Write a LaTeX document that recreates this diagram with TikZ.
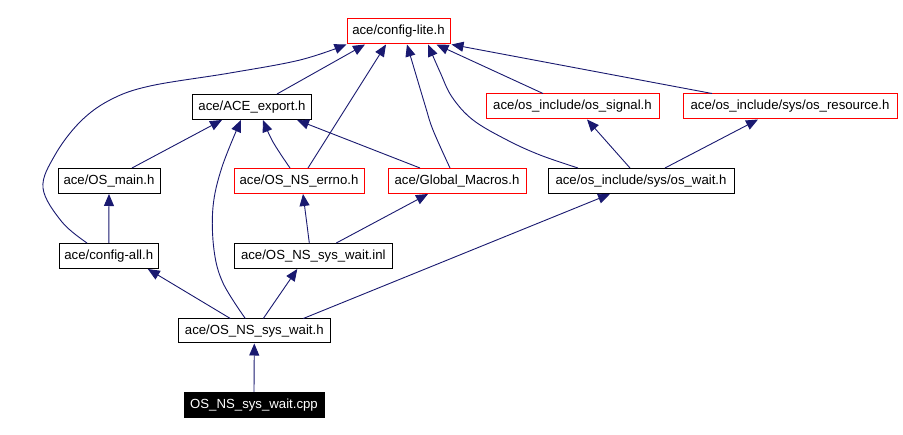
\documentclass[tikz,border=0pt]{standalone}
\usepackage{fontspec}
\setmainfont{Liberation Sans}
\usetikzlibrary{arrows.meta}
\definecolor{edgeblue}{HTML}{191970}
\definecolor{boxred}{HTML}{FF0000}
\begin{document}
\begin{tikzpicture}[x=1pt,y=-1pt,
  box/.style={draw=black, line width=1pt, rectangle, minimum height=25pt, inner sep=0pt, font=\fontsize{13.2}{15}\selectfont, text=black, fill=white},
  redbox/.style={box, draw=boxred},
  dark/.style={box, fill=black, text=white, draw=black},
  arr/.style={draw=edgeblue, line width=0.9pt, -{Triangle[length=12pt,width=10pt]}},
]
\useasboundingbox[fill=white] (0,0) rectangle (903,435);

\node[redbox, minimum width=103pt] (lite) at (398.5,31.5) {ace/config-lite.h};
\node[box, minimum width=119pt] (ace) at (252,107) {ace/ACE\_export.h};
\node[redbox, minimum width=173pt] (signal) at (572.5,106.5) {ace/os\_include/os\_signal.h};
\node[redbox, minimum width=214pt] (resource) at (790,106.5) {ace/os\_include/sys/os\_resource.h};
\node[box, minimum width=102pt] (main) at (109,181) {ace/OS\_main.h};
\node[redbox, minimum width=130pt] (errno) at (299,181) {ace/OS\_NS\_errno.h};
\node[redbox, minimum width=138pt] (macros) at (457,181) {ace/Global\_Macros.h};
\node[box, minimum width=186pt] (oswait) at (641,181) {ace/os\_include/sys/os\_wait.h};
\node[box, minimum width=99pt] (cfgall) at (108.8,256) {ace/config-all.h};
\node[box, minimum width=158pt] (inl) at (313.3,256) {ace/OS\_NS\_sys\_wait.inl};
\node[box, minimum width=152pt, minimum height=24pt] (sysh) at (254.3,331) {ace/OS\_NS\_sys\_wait.h};
\node[dark, minimum width=140pt] (cpp) at (254,405) {OS\_NS\_sys\_wait.cpp};

% straight connectors
\draw[arr] (cpp.north) -- (sysh.south);
\draw[arr] ([xshift=-24pt]sysh.north) -- ([xshift=39pt]cfgall.south);
\draw[arr] ([xshift=9pt]sysh.north) -- ([xshift=-16pt]inl.south);
\draw[arr] ([xshift=49pt]sysh.north) -- ([xshift=-31pt]oswait.south);
\draw[arr] (cfgall.north) -- (main.south);
\draw[arr] ([xshift=23pt]main.north) -- ([xshift=-30pt]ace.south);
\draw[arr] ([xshift=23pt]inl.north) -- ([xshift=-29pt]macros.south);
\draw[arr] ([xshift=9pt]errno.north) -- ([xshift=-12.5pt]lite.south);
\draw[arr] ([xshift=-37pt]macros.north) -- ([xshift=45pt]ace.south);
\draw[arr] ([xshift=25pt]ace.north) -- ([xshift=-33.5pt]lite.south);
\draw[arr] ([xshift=-11pt]oswait.north) -- ([xshift=14.5pt]signal.south);
\draw[arr] ([xshift=24pt]oswait.north) -- ([xshift=-32pt]resource.south);
\draw[arr] ([xshift=-29.5pt]signal.north) -- ([xshift=38pt]lite.south);
\draw[arr] ([xshift=-78pt]resource.north) -- ([xshift=1pt]lite.south east);

% curved connectors
\draw[arr] plot[smooth, tension=0.6] coordinates {([xshift=-21.8pt]cfgall.north) (62,222) (43,188) (55,155) (80,122) (110,100) (150,86) (230,73) (300,60) (lite.south west)};
\draw[arr] plot[smooth, tension=0.6] coordinates {([xshift=-9pt]sysh.north) (223,283) (214,250) (213,207) (222,167) ([xshift=-11pt]ace.south)};
\draw[arr] plot[smooth, tension=0.6] coordinates {([xshift=-4pt]inl.north) (306,217) ([xshift=4pt]errno.south)};
\draw[arr] plot[smooth, tension=0.6] coordinates {([xshift=-9pt]errno.north) (273,142) ([xshift=11pt]ace.south)};
\draw[arr] plot[smooth, tension=0.6] coordinates {([xshift=-7pt]macros.north) (433,130) (425,105) ([xshift=8.5pt]lite.south)};
\draw[arr] plot[smooth, tension=0.6] coordinates {([xshift=-63pt]oswait.north) (540,155) (507,140) (473,120) (452,97) (440,72) ([xshift=29.5pt]lite.south)};
\end{tikzpicture}
\end{document}
